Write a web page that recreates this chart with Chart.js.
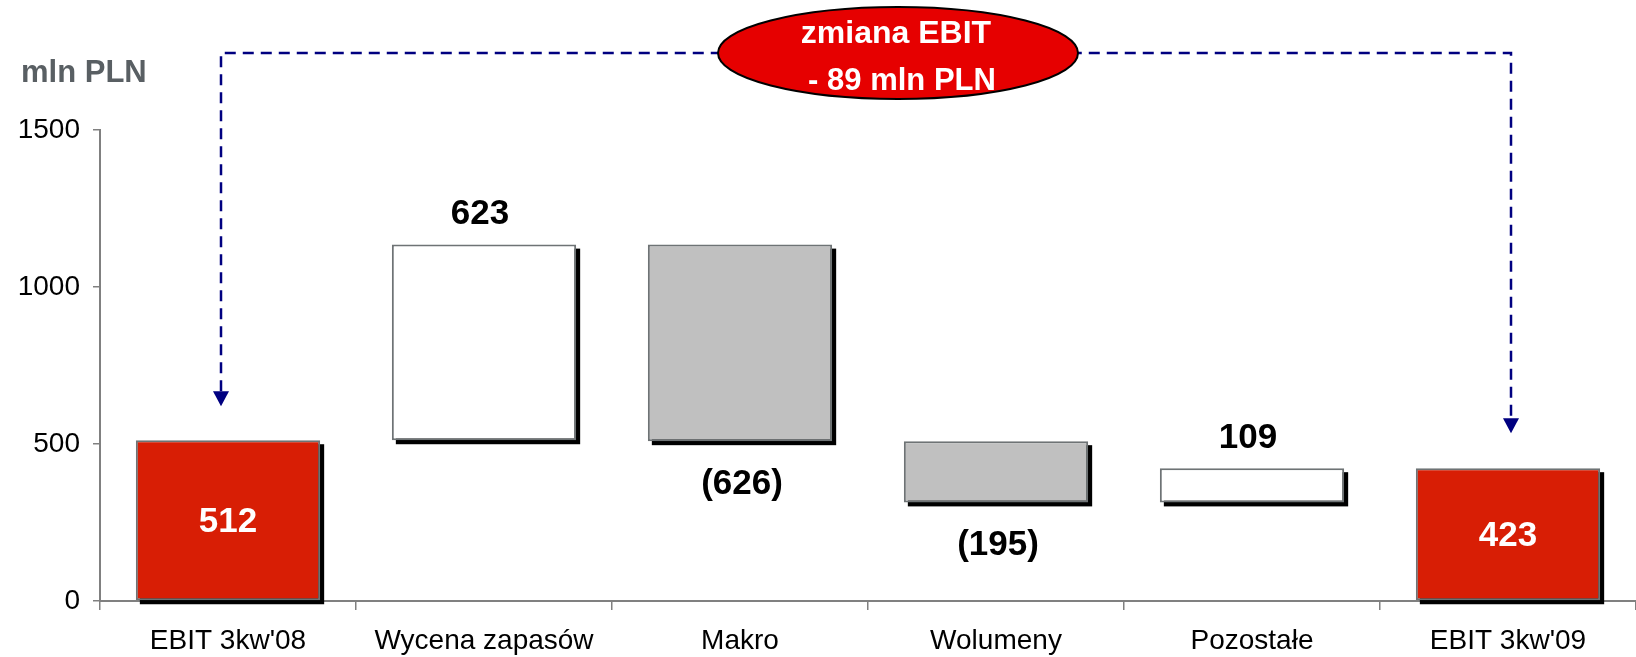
<!DOCTYPE html>
<html>
<head>
<meta charset="utf-8">
<script src="https://cdn.jsdelivr.net/npm/chart.js@4/dist/chart.umd.min.js"></script>
<style>
  html, body { margin: 0; padding: 0; background: #ffffff; }
  #wrap { position: relative; width: 1636px; height: 657px; }
</style>
</head>
<body>
<div id="wrap"><canvas id="c"></canvas></div>
<script>
// ---- data ----
const categories = ["EBIT 3kw'08", "Wycena zapasów", "Makro", "Wolumeny", "Pozostałe", "EBIT 3kw'09"];
const deltas     = [512, 623, -626, -195, 109, 423];
const kinds      = ["total", "step", "step", "step", "step", "total"];
const yTicks     = [0, 500, 1000, 1500];
const unitLabel  = "mln PLN";
const calloutLines = ["zmiana EBIT", "- 89 mln PLN"];

// ---- build waterfall ranges ----
const ranges = [];
let running = 0;
for (let i = 0; i < deltas.length; i++) {
  if (kinds[i] === "total") {
    ranges.push([0, deltas[i]]);
    running = deltas[i];
  } else {
    const start = running;
    running = running + deltas[i];
    ranges.push([Math.min(start, running), Math.max(start, running)]);
  }
}
const fills = deltas.map((d, i) => kinds[i] === "total" ? "#d81e05" : (d >= 0 ? "#ffffff" : "#c0c0c0"));
const labelText = deltas.map((d, i) => kinds[i] === "total" ? String(d) : (d >= 0 ? String(d) : "(" + Math.abs(d) + ")"));

const FONT = "'Liberation Sans', Arial, sans-serif";

const shadowPlugin = {
  id: 'shadow',
  beforeDatasetsDraw(chart) {
    const ctx = chart.ctx;
    const meta = chart.getDatasetMeta(0);
    ctx.save();
    ctx.fillStyle = '#000000';
    meta.data.forEach(el => {
      const p = el.getProps(['x', 'y', 'base', 'width'], true);
      const top = Math.min(p.y, p.base), bot = Math.max(p.y, p.base);
      ctx.fillRect(p.x - p.width / 2 + 4, top + 4, p.width, bot - top);
    });
    ctx.restore();
  }
};

const labelPlugin = {
  id: 'labels',
  afterDatasetsDraw(chart) {
    const ctx = chart.ctx;
    const meta = chart.getDatasetMeta(0);
    ctx.save();
    ctx.textAlign = 'center';
    ctx.textBaseline = 'middle';
    ctx.font = "bold 35px " + FONT;
    meta.data.forEach((el, i) => {
      const p = el.getProps(['x', 'y', 'base'], true);
      const top = Math.min(p.y, p.base), bot = Math.max(p.y, p.base);
      if (kinds[i] === "total") {
        ctx.fillStyle = '#ffffff';
        ctx.fillText(labelText[i], p.x, (top + bot) / 2 + 2);
      } else if (deltas[i] >= 0) {
        ctx.fillStyle = '#000000';
        ctx.fillText(labelText[i], p.x - 4, top - 30);
      } else {
        ctx.fillStyle = '#000000';
        ctx.fillText(labelText[i], p.x + 2, bot + 43);
      }
    });
    ctx.restore();
  }
};

const calloutPlugin = {
  id: 'callout',
  afterDraw(chart) {
    const ctx = chart.ctx;
    const xs = chart.scales.x, ys = chart.scales.y;
    const navy = '#000080';
    const lineY = 53;
    const leftX = xs.getPixelForValue(0) - 7;
    const rightX = xs.getPixelForValue(categories.length - 1) + 3;
    const leftTip = ys.getPixelForValue(deltas[0]) - 34;
    const rightTip = ys.getPixelForValue(deltas[deltas.length - 1]) - 35;

    ctx.save();
    // unit label
    ctx.fillStyle = '#595f63';
    ctx.font = "bold 31px " + FONT;
    ctx.textAlign = 'left';
    ctx.textBaseline = 'alphabetic';
    ctx.fillText(unitLabel, 21, 82);

    // dashed connector
    ctx.strokeStyle = navy;
    ctx.lineWidth = 2.5;
    ctx.setLineDash([11, 7]);
    ctx.beginPath();
    ctx.moveTo(leftX, leftTip - 15);
    ctx.lineTo(leftX, lineY);
    ctx.lineTo(rightX, lineY);
    ctx.lineTo(rightX, rightTip - 15);
    ctx.stroke();
    ctx.setLineDash([]);

    // arrow heads
    ctx.fillStyle = navy;
    [[leftX, leftTip], [rightX, rightTip]].forEach(([ax, tip]) => {
      ctx.beginPath();
      ctx.moveTo(ax - 8, tip - 15);
      ctx.lineTo(ax + 8, tip - 15);
      ctx.lineTo(ax, tip);
      ctx.closePath();
      ctx.fill();
    });

    // ellipse
    const cx = 898, cy = 53;
    ctx.beginPath();
    ctx.ellipse(cx, cy, 180, 46, 0, 0, Math.PI * 2);
    ctx.fillStyle = '#e60000';
    ctx.fill();
    ctx.lineWidth = 2;
    ctx.strokeStyle = '#000000';
    ctx.stroke();

    ctx.fillStyle = '#ffffff';
    ctx.font = "bold 32px " + FONT;
    ctx.textAlign = 'center';
    ctx.fillText(calloutLines[0], cx - 2, 43);
    ctx.font = "bold 31px " + FONT;
    ctx.fillText(calloutLines[1], cx + 4, 90);
    ctx.restore();
  }
};

new Chart(document.getElementById('c'), {
  type: 'bar',
  data: {
    labels: categories,
    datasets: [{
      data: ranges,
      backgroundColor: fills,
      borderColor: '#6e7375',
      borderWidth: 2,
      borderSkipped: false,
      categoryPercentage: 1.0,
      barPercentage: 0.72,
      clip: false
    }]
  },
  options: {
    responsive: true,
    maintainAspectRatio: false,
    animation: false,
    layout: { padding: { top: 130, left: 0, right: 0, bottom: 0 } },
    plugins: { legend: { display: false }, tooltip: { enabled: false } },
    scales: {
      x: {
        offset: true,
        grid: { display: true, drawOnChartArea: false, offset: true, tickLength: 9, color: '#808080', lineWidth: 1.5 },
        border: { display: true, color: '#808080', width: 2 },
        ticks: { color: '#000000', font: { family: FONT, size: 28 }, padding: 14, maxRotation: 0, autoSkip: false },
        afterFit: s => { s.height = 56; }
      },
      y: {
        min: yTicks[0],
        max: yTicks[yTicks.length - 1],
        afterBuildTicks: s => { s.ticks = yTicks.map(v => ({ value: v })); },
        grid: { display: true, drawOnChartArea: false, tickLength: 7, color: '#808080', lineWidth: 1.5 },
        border: { display: true, color: '#808080', width: 2 },
        ticks: { color: '#000000', font: { family: FONT, size: 28 }, padding: 13, callback: v => String(v) },
        afterFit: s => { s.width = 100; }
      }
    }
  },
  plugins: [shadowPlugin, labelPlugin, calloutPlugin]
});
</script>
</body>
</html>
